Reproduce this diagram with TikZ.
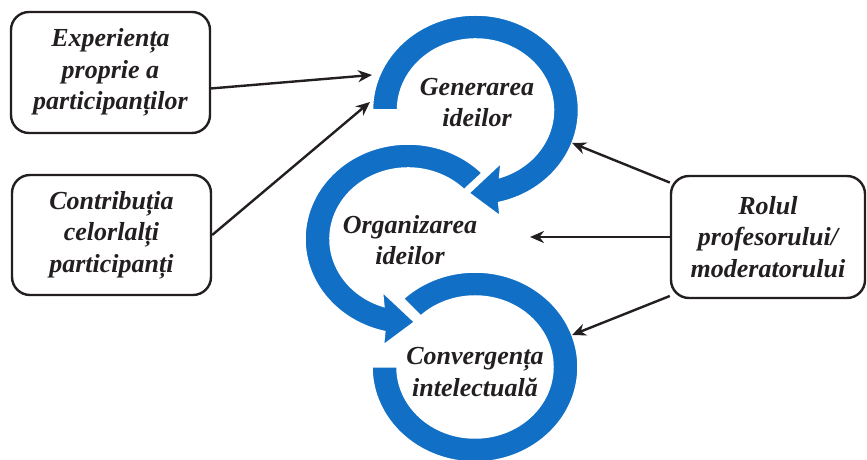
\documentclass[tikz,border=0pt]{standalone}
\usepackage{fontspec}
\setmainfont{Liberation Serif}
\usepackage{xcolor}
\usetikzlibrary{arrows.meta, positioning}
\definecolor{ringblue}{HTML}{1170C6}
\definecolor{ink}{HTML}{231F20}
\newcommand{\lblfont}{\fontsize{26}{31.5}\selectfont\bfseries\itshape}
\tikzset{
  box/.style={rectangle, rounded corners=18pt, draw=ink, line width=2.4pt,
              fill=white, align=center, inner sep=0pt, font=\lblfont, text=ink},
  lbl/.style={align=center, font=\lblfont, text=ink},
  ring/.style={fill=ringblue, draw=white, line width=1.5pt},
  e/.style={line width=2.4pt, ink, -{Stealth[length=14pt, width=12pt]}},
}

\begin{document}
\begin{tikzpicture}[x=1pt, y=1pt]
  \useasboundingbox (0,0) rectangle (867,460);
  \clip (0,0) rectangle (867,460);
  % convergenta
  \begin{scope}[shift={(475,93)}]
    \draw[ring] (134:103pt and 95pt)
      arc[start angle=134, end angle=-180, x radius=103pt, y radius=95pt]
      -- (-180:78pt and 71pt)
      arc[start angle=-180, end angle=134, x radius=78pt, y radius=71pt] -- cycle;
  \end{scope}
  % organizarea
  \begin{scope}[shift={(408,221)}]
    \draw[ring] (44:103pt and 95pt)
      arc[start angle=44, end angle=257, x radius=103pt, y radius=95pt]
      -- (-24.5,-106) -- (6.5,-83) -- (-25.5,-53)
      -- (252:78pt and 71pt)
      arc[start angle=252, end angle=44, x radius=78pt, y radius=71pt] -- cycle;
  \end{scope}
  % generarea
  \begin{scope}[shift={(475.5,350)}]
    \draw[ring] (180:103pt and 95pt)
      arc[start angle=180, end angle=-77, x radius=103pt, y radius=95pt]
      -- (24.5,-106) -- (-6.5,-83) -- (25.5,-53)
      -- (-72:78pt and 71pt)
      arc[start angle=-72, end angle=180, x radius=78pt, y radius=71pt] -- cycle;
  \end{scope}

  \node[lbl] (gen) at (477,357.5) {Generarea\\ideilor};
  \node[lbl] (org) at (410,220) {Organizarea\\ideilor};
  \node[lbl] (conv) at (475,88) {Convergența\\intelectuală};

  \node[box, minimum width=199pt, minimum height=121pt] (b1) at (110.5,387.5)
    {Experiența\\proprie a\\participanților};
  \node[box, minimum width=199pt, minimum height=120pt] (b2) at (111.5,225)
    {Contribuția\\celorlalți\\participanți};
  \node[box, minimum width=194pt, minimum height=122pt] (b3) at (768,223)
    {Rolul\\profesorului/\\moderatorului};

  \coordinate (t1) at (372,385);
  \coordinate (t2) at (370,358);
  \coordinate (t3) at (572,317);
  \coordinate (t4) at (530,223);
  \coordinate (t5) at (572,125);
  \draw[e] (b1.-9) -- (t1);
  \draw[e] (b2.east) -- (t2);
  \draw[e] (b3.151) -- (t3);
  \draw[e] (b3.west) -- (t4);
  \draw[e] (b3.211) -- (t5);
\end{tikzpicture}
\end{document}
